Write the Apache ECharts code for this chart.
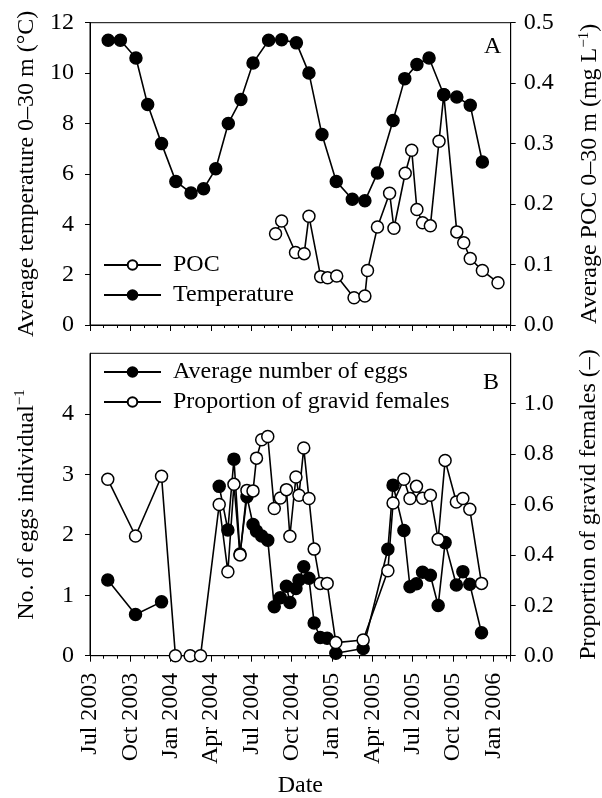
<!DOCTYPE html>
<html>
<head>
<meta charset="utf-8">
<script src="https://cdn.jsdelivr.net/npm/echarts@6/dist/echarts.min.js"></script>
<style>
  html, body { margin: 0; padding: 0; background: #fff; }
  #main { width: 602px; height: 798px; }
</style>
</head>
<body>
<div id="main"></div>
<script>
// panel A: temperature sampling
var tempDates = ['2003-08-12','2003-09-09','2003-10-14','2003-11-10','2003-12-11',
  '2004-01-13','2004-02-17','2004-03-15','2004-04-12','2004-05-10','2004-06-08',
  '2004-07-05','2004-08-10','2004-09-09','2004-10-12','2004-11-10','2004-12-09',
  '2005-01-11','2005-02-17','2005-03-15','2005-04-13','2005-05-18','2005-06-14',
  '2005-07-11','2005-08-08','2005-09-11','2005-10-10','2005-11-10','2005-12-07'];
var tempValues = [11.3, 11.3, 10.6, 8.75, 7.2, 5.7, 5.24, 5.41, 6.2, 8.0, 8.95,
  10.4, 11.3, 11.32, 11.2, 10.0, 7.56, 5.7, 4.99, 4.93, 6.03, 8.12, 9.78,
  10.34, 10.6, 9.14, 9.05, 8.72, 6.47];

// panel A: POC
var pocDates = ['2004-08-26','2004-09-09','2004-10-10','2004-10-30','2004-11-10',
  '2004-12-06','2004-12-22','2005-01-12','2005-02-21','2005-03-15','2005-03-21',
  '2005-04-13','2005-05-10','2005-05-20','2005-06-15','2005-06-30','2005-07-11',
  '2005-07-24','2005-08-11','2005-08-31','2005-09-11','2005-10-10','2005-10-26',
  '2005-11-10','2005-12-07','2006-01-12'];
var pocValues = [0.151, 0.172, 0.120, 0.118, 0.180, 0.080, 0.078, 0.081, 0.045,
  0.048, 0.090, 0.162, 0.218, 0.160, 0.251, 0.289, 0.191, 0.169, 0.164, 0.304,
  0.381, 0.154, 0.136, 0.110, 0.090, 0.070];

// panel B: copepod samples
var sampleDates = ['2003-08-11','2003-10-13','2003-12-11','2004-01-12','2004-02-15',
  '2004-03-08','2004-04-20','2004-05-09','2004-05-23','2004-06-06','2004-06-22',
  '2004-07-05','2004-07-13','2004-07-25','2004-08-08','2004-08-23','2004-09-06',
  '2004-09-20','2004-09-28','2004-10-11','2004-10-18','2004-10-29','2004-11-10',
  '2004-11-22','2004-12-05','2004-12-21','2005-01-10','2005-03-11','2005-05-06',
  '2005-05-18','2005-06-12','2005-06-26','2005-07-10','2005-07-24','2005-08-11',
  '2005-08-29','2005-09-14','2005-10-09','2005-10-24','2005-11-09','2005-12-05'];
var eggValues = [1.25, 0.68, 0.89, null, null, null, 2.80, 2.08, 3.25, 1.68, 2.63,
  2.17, 2.06, 1.98, 1.91, 0.81, 0.96, 1.15, 0.88, 1.11, 1.25, 1.47, 1.28, 0.54,
  0.30, 0.29, 0.04, 0.12, 1.76, 2.82, 2.07, 1.14, 1.19, 1.38, 1.33, 0.83, 1.87,
  1.17, 1.39, 1.18, 0.38];
var gravidValues = [0.70, 0.475, 0.712, 0, 0, 0, 0.60, 0.333, 0.68, 0.40, 0.656,
  0.654, 0.784, 0.857, 0.87, 0.584, 0.626, 0.659, 0.474, 0.709, 0.637, 0.824,
  0.624, 0.423, 0.287, 0.287, 0.052, 0.062, 0.337, 0.606, 0.70, 0.624, 0.672,
  0.625, 0.637, 0.462, 0.775, 0.61, 0.624, 0.581, 0.287];

var tickMonths = ['Jul', 'Oct', 'Jan', 'Apr'];

// months since 1 Jul 2003
function toMonth(s) {
  var p = s.split('-').map(Number);
  return (p[0] - 2003) * 12 + (p[1] - 7) + (p[2] - 1) / 31;
}
function pairs(dates, vals) {
  return dates.map(function (d, i) {
    return [toMonth(d), vals[i] == null ? '-' : vals[i]];
  });
}

var FONT = 'Liberation Serif';
var FS = 24;
var black = '#000';

function xAxisFor(grid, showLabels) {
  return {
    type: 'value', gridIndex: grid, min: 0, max: 31.3, interval: 3,
    axisLine: { show: true, lineStyle: { color: black, width: 1 } },
    axisTick: { show: true, inside: false, length: 6, lineStyle: { color: black } },
    minorTick: { show: true, splitNumber: 3, length: 3, lineStyle: { color: black } },
    splitLine: { show: false },
    axisLabel: {
      show: showLabels, rotate: 90, margin: 17, color: black,
      fontFamily: FONT, fontSize: FS,
      formatter: function (v) {
        if (Math.abs(v % 3) > 1e-6) return '';
        var y = 2003 + Math.floor((v + 6) / 12);
        return tickMonths[(v / 3) % 4] + ' ' + y;
      }
    },
    name: showLabels ? 'Date' : '', nameLocation: 'middle', nameGap: 118,
    nameTextStyle: { fontFamily: FONT, fontSize: FS, color: black }
  };
}

function yAxisFor(grid, pos, max, interval, dec, hideMax, name, gap) {
  return {
    type: 'value', gridIndex: grid, position: pos, min: 0, max: max, interval: interval,
    axisLine: { show: true, lineStyle: { color: black, width: 1 } },
    axisTick: { show: true, inside: false, length: 5, lineStyle: { color: black } },
    splitLine: { show: false },
    axisLabel: {
      color: black, fontFamily: FONT, fontSize: FS,
      margin: pos === 'left' ? 16 : 13,
      showMaxLabel: !hideMax,
      formatter: function (v) { return v.toFixed(dec); }
    },
    name: name, nameLocation: 'middle', nameRotate: 90, nameGap: gap,
    nameTextStyle: {
      fontFamily: FONT, fontSize: FS, color: black,
      rich: { sup: { fontFamily: FONT, fontSize: 15, color: black, padding: [0, 0, 12, 0] } }
    }
  };
}

function lineSeries(name, xi, yi, data, filled) {
  return {
    name: name, type: 'line', xAxisIndex: xi, yAxisIndex: yi, data: data,
    symbol: 'circle', symbolSize: 12, showAllSymbol: true, animation: false,
    lineStyle: { color: black, width: 1.6 },
    itemStyle: { color: filled ? black : '#fff', borderColor: black, borderWidth: 1.5 }
  };
}

var chart = echarts.init(document.getElementById('main'), null, { renderer: 'canvas' });
chart.setOption({
  backgroundColor: '#fff',
  animation: false,
  textStyle: { fontFamily: FONT },
  grid: [
    { left: 90, top: 22.7, width: 420.7, height: 302.3, show: true, borderColor: black, borderWidth: 1,
      containLabel: false, outerBoundsMode: 'none' },
    { left: 90, top: 353.3, width: 420.7, height: 302.4, show: true, borderColor: black, borderWidth: 1,
      containLabel: false, outerBoundsMode: 'none' }
  ],
  title: [
    { text: 'A', left: 479, top: 30, textStyle: { fontFamily: FONT, fontSize: FS, fontWeight: 'normal', color: black } },
    { text: 'B', left: 478, top: 366, textStyle: { fontFamily: FONT, fontSize: FS, fontWeight: 'normal', color: black } }
  ],
  legend: [
    {
      data: ['POC', 'Temperature'], orient: 'vertical', left: 98, top: 248,
      itemWidth: 57, itemHeight: 12, itemGap: 6,
      textStyle: { fontFamily: FONT, fontSize: FS, color: black, lineHeight: 24, padding: [0, 0, 0, 7] }
    },
    {
      data: ['Average number of eggs', 'Proportion of gravid females'], orient: 'vertical',
      left: 98, top: 355, itemWidth: 57, itemHeight: 12, itemGap: 6,
      textStyle: { fontFamily: FONT, fontSize: FS, color: black, lineHeight: 24, padding: [0, 0, 0, 7] }
    }
  ],
  xAxis: [xAxisFor(0, false), xAxisFor(1, true)],
  yAxis: [
    yAxisFor(0, 'left', 12, 2, 0, false, 'Average temperature 0\u201330 m (\u00b0C)', 50),
    yAxisFor(0, 'right', 0.5, 0.1, 1, false, 'Average POC 0\u201330 m (mg L{sup|\u22121})', 66),
    yAxisFor(1, 'left', 5, 1, 0, true, 'No. of eggs individual{sup|\u22121}', 50),
    yAxisFor(1, 'right', 1.2, 0.2, 1, true, 'Proportion of gravid females (\u2013)', 66)
  ],
  series: [
    lineSeries('POC', 0, 1, pairs(pocDates, pocValues), false),
    lineSeries('Temperature', 0, 0, pairs(tempDates, tempValues), true),
    lineSeries('Average number of eggs', 1, 2, pairs(sampleDates, eggValues), true),
    lineSeries('Proportion of gravid females', 1, 3, pairs(sampleDates, gravidValues), false)
  ]
});
</script>
</body>
</html>
